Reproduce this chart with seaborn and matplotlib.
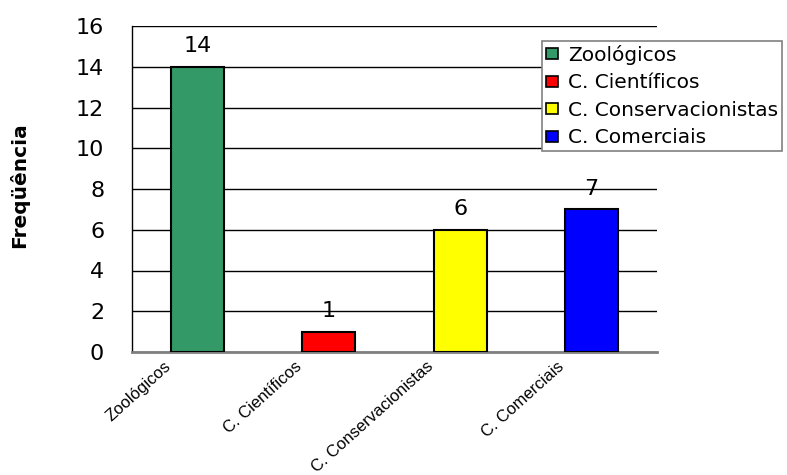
import matplotlib
matplotlib.use("Agg")
import matplotlib.pyplot as plt
import seaborn as sns
import pandas as pd

# Data
categorias = ["Zoológicos", "C. Científicos", "C. Conservacionistas", "C. Comerciais"]
frequencias = [14, 1, 6, 7]
cores = ["#339966", "#FF0000", "#FFFF00", "#0000FF"]
yticks = [0, 2, 4, 6, 8, 10, 12, 14, 16]

sns.set_style("white")
plt.rcParams["font.family"] = ["DejaVu Sans"]
plt.rcParams["text.color"] = "black"
plt.rcParams["axes.labelcolor"] = "black"
plt.rcParams["xtick.color"] = "black"
plt.rcParams["ytick.color"] = "black"

df = pd.DataFrame({"categoria": categorias, "frequencia": frequencias})

fig = plt.figure(figsize=(7.87, 4.75), dpi=100)
ax = fig.add_axes([132 / 787, 1 - 352 / 475, 525 / 787, 326 / 475])

sns.barplot(
    data=df, x="categoria", y="frequencia", hue="categoria",
    palette=cores, width=0.405, edgecolor="black", linewidth=1.5,
    saturation=1, legend=True, ax=ax, zorder=3,
)

# value labels above each bar
for cont in ax.containers:
    ax.bar_label(cont, fmt="%d", padding=7.5, fontsize=16, color="black")

ax.set_xlim(-0.5, len(categorias) - 0.5)
ax.set_ylim(0, 16)
ax.set_yticks(yticks)
ax.set_yticklabels([str(v) for v in yticks], fontsize=16)
ax.tick_params(axis="y", direction="out", length=7, width=1, color="black",
               pad=13, labelcolor="black")

# horizontal gridlines
ax.yaxis.grid(True, color="black", linewidth=1)
ax.set_axisbelow(True)

# tick marks on the category boundaries
ax.set_xticks([i - 0.5 for i in range(len(categorias) + 1)], minor=True)
ax.tick_params(axis="x", which="minor", direction="inout", length=8, width=1, color="black")

# rotated category names, ending a little left of each bar centre
label_pos = [i - 0.26 for i in range(len(categorias))]
ax.set_xticks(label_pos)
ax.set_xticklabels(categorias, rotation=42, ha="right", va="top",
                   rotation_mode="anchor", fontsize=12,
                   family="Liberation Sans")
ax.tick_params(axis="x", which="major", length=0, pad=5, labelcolor="black")

ax.set_xlabel("")
ax.set_ylabel("Freqüência", fontsize=14.5, fontweight="bold")
ax.yaxis.set_label_coords(-0.195, 0.512)

for side in ["top", "right"]:
    ax.spines[side].set_visible(False)
ax.spines["left"].set_color("black")
ax.spines["left"].set_linewidth(1)
ax.spines["bottom"].set_color("#808080")
ax.spines["bottom"].set_linewidth(2)

handles, labels = ax.get_legend_handles_labels()
leg = ax.legend(
    handles, labels,
    loc="upper left", bbox_to_anchor=(542 / 787, 1 - 41 / 475),
    bbox_transform=fig.transFigure, borderaxespad=0,
    fontsize=14.5, frameon=True, fancybox=False, shadow=False,
    edgecolor="#808080", framealpha=1,
    handlelength=0.6, handleheight=0.45, handletextpad=0.5,
    labelspacing=0.42, borderpad=0.2,
)
leg.get_frame().set_linewidth(1.2)
for h in leg.legend_handles:
    h.set_linewidth(1.2)
    h.set_edgecolor("black")

fig.savefig("out.png", dpi=100)
